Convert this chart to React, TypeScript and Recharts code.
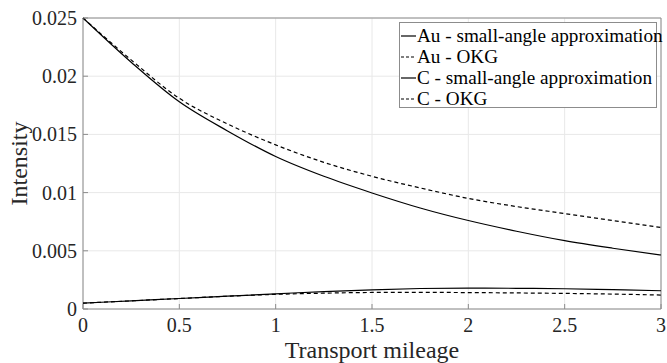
import React from 'react';
import {
  LineChart, Line, XAxis, YAxis, CartesianGrid, ReferenceArea,
} from 'recharts';

const mileage = [0, 0.25, 0.5, 0.75, 1, 1.25, 1.5, 1.75, 2, 2.25, 2.5, 2.75, 3];
const auSmall = [0.025, 0.0212, 0.0178, 0.0153, 0.0131, 0.0114, 0.00997, 0.00868, 0.0076, 0.00668, 0.00587, 0.00522, 0.00464];
const auOkg = [0.025, 0.0214, 0.0181, 0.0159, 0.0141, 0.0126, 0.0114, 0.0104, 0.0095, 0.0088, 0.0082, 0.0076, 0.0070];
const cSmall = [0.0005, 0.0007, 0.0009, 0.0011, 0.0013, 0.0015, 0.00165, 0.00176, 0.0018, 0.00178, 0.00174, 0.00166, 0.00157];
const cOkg = [0.0005, 0.0007, 0.0009, 0.0011, 0.00126, 0.00136, 0.00142, 0.00143, 0.00141, 0.00138, 0.00134, 0.00128, 0.0012];

const xTicks = [0, 0.5, 1, 1.5, 2, 2.5, 3];
const yTicks = [0, 0.005, 0.01, 0.015, 0.02, 0.025];

const SERIES = [
  { key: 'auSmall', name: 'Au - small-angle approximation', dash: undefined },
  { key: 'auOkg', name: 'Au - OKG', dash: '4 3' },
  { key: 'cSmall', name: 'C - small-angle approximation', dash: undefined },
  { key: 'cOkg', name: 'C - OKG', dash: '4 3' },
];

const data = mileage.map((m, i) => ({
  m, auSmall: auSmall[i], auOkg: auOkg[i], cSmall: cSmall[i], cOkg: cOkg[i],
}));

const FONT = 'serif';
const AXIS = '#8c8c8c';

const BottomTick = (p: any) => (
  <g>
    <line x1={p.x} y1={p.y} x2={p.x} y2={p.y - 5} stroke={AXIS} />
    <text x={p.x} y={p.y + 23} textAnchor="middle" fontSize={20} fontFamily={FONT} fill="#262626">
      {String(p.payload.value)}
    </text>
  </g>
);
const LeftTick = (p: any) => (
  <g>
    <line x1={p.x} y1={p.y} x2={p.x + 5} y2={p.y} stroke={AXIS} />
    <text x={p.x - 6} y={p.y + 7} textAnchor="end" fontSize={20} fontFamily={FONT} fill="#262626">
      {String(p.payload.value)}
    </text>
  </g>
);
const TopTick = (p: any) => <line x1={p.x} y1={p.y} x2={p.x} y2={p.y + 5} stroke={AXIS} />;
const RightTick = (p: any) => <line x1={p.x} y1={p.y} x2={p.x - 5} y2={p.y} stroke={AXIS} />;

export default function App() {
  return (
    <div style={{ position: 'fixed', left: 0, top: 0, width: 667, height: 363, background: '#fff', fontFamily: FONT }}>
      <LineChart width={667} height={363} data={data} margin={{ top: 18, right: 6, left: 0, bottom: 0 }}>
        <CartesianGrid stroke="#e8e8e8" horizontalValues={yTicks} verticalValues={xTicks} />
        <XAxis
          dataKey="m" type="number" domain={[0, 3]} ticks={xTicks} height={54}
          axisLine={false} tickLine={false} tickSize={0} tickMargin={0} tick={<BottomTick />}
          label={{ value: 'Transport mileage', position: 'insideBottom', offset: 5, fontSize: 24, fontFamily: FONT, fill: '#262626' }}
        />
        <XAxis
          xAxisId="top" orientation="top" dataKey="m" type="number" domain={[0, 3]} ticks={xTicks} height={0}
          axisLine={false} tickLine={false} tickSize={0} tickMargin={0} tick={<TopTick />}
        />
        <YAxis
          type="number" domain={[0, 0.025]} ticks={yTicks} width={83}
          axisLine={false} tickLine={false} tickSize={0} tickMargin={0} tick={<LeftTick />}
          label={{ value: 'Intensity', angle: -90, position: 'insideLeft', offset: 18, fontSize: 24, fontFamily: FONT, fill: '#262626', style: { textAnchor: 'middle' } }}
        />
        <YAxis
          yAxisId="right" orientation="right" type="number" domain={[0, 0.025]} ticks={yTicks} width={0}
          axisLine={false} tickLine={false} tickSize={0} tickMargin={0} tick={<RightTick />}
        />
        <ReferenceArea x1={0} x2={3} y1={0} y2={0.025} fill="none" stroke={AXIS} strokeWidth={1} ifOverflow="extendDomain" />
        {SERIES.map((s) => (
          <Line
            key={s.key} dataKey={s.key} name={s.name} type="monotone" stroke="#000" strokeWidth={1.2}
            strokeDasharray={s.dash} dot={false} isAnimationActive={false}
          />
        ))}
      </LineChart>
      <div style={{
        position: 'absolute', left: 399, top: 22, width: 258, height: 86, boxSizing: 'border-box',
        border: `1px solid ${AXIS}`, background: '#fff', fontFamily: FONT, fontSize: 19.2, color: '#000',
        padding: '2px 0 0 1px', whiteSpace: 'nowrap',
      }}>
        {SERIES.map((s) => (
          <div key={s.key} style={{ display: 'flex', alignItems: 'center', height: 21, lineHeight: '21px' }}>
            <svg width={15} height={4} style={{ marginRight: 1, flexShrink: 0 }}>
              <line x1={0} y1={2} x2={15} y2={2} stroke="#000" strokeWidth={1.2} strokeDasharray={s.dash ? '3 2' : undefined} />
            </svg>
            <span>{s.name}</span>
          </div>
        ))}
      </div>
    </div>
  );
}
